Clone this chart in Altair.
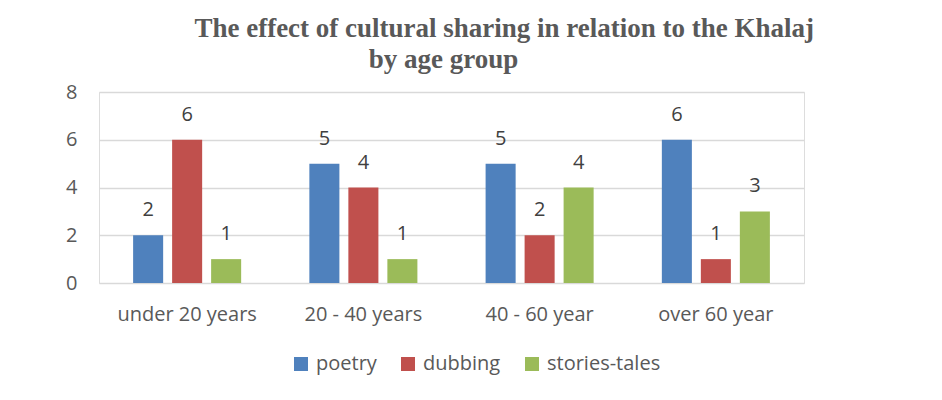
import altair as alt
import pandas as pd

categories = ["under 20 years", "20 - 40 years", "40 - 60 year", "over 60 year"]
series = ["poetry", "dubbing", "stories-tales"]
poetry = [2, 5, 5, 6]
dubbing = [6, 4, 2, 1]
stories = [1, 1, 4, 3]
colors = ["#4F81BD", "#C0504D", "#9BBB59"]

rows = []
for name, vals in zip(series, [poetry, dubbing, stories]):
    for c, v in zip(categories, vals):
        rows.append({"age": c, "series": name, "value": v})
df = pd.DataFrame(rows)

FONT = "Open Sans"
TXT = "#595959"
FS = 20

base = alt.Chart(df).encode(
    x=alt.X("age:N", sort=categories, title=None,
            scale=alt.Scale(paddingInner=0.387, paddingOuter=0.1936),
            axis=alt.Axis(labelAngle=0, ticks=False, domain=False, grid=False,
                          labelPadding=21, labelFont=FONT, labelFontSize=FS,
                          labelColor=TXT)),
    xOffset=alt.XOffset("series:N", sort=series,
                        scale=alt.Scale(paddingInner=0.23, paddingOuter=0)),
    y=alt.Y("value:Q", title=None, scale=alt.Scale(domain=[0, 8]),
            axis=alt.Axis(values=[0, 2, 4, 6, 8], ticks=False, domain=False,
                          grid=True, gridColor="#D9D9D9", gridWidth=1.3,
                          labelPadding=22, labelFont=FONT, labelFontSize=FS,
                          labelColor=TXT)),
)

bars = base.mark_bar().encode(
    color=alt.Color("series:N", sort=series,
                    scale=alt.Scale(domain=series, range=colors),
                    legend=alt.Legend(title=None, orient="none", direction="horizontal",
                                      legendX=192, legendY=262,
                                      symbolType="square", symbolSize=196,
                                      symbolStrokeWidth=0, labelFont=FONT,
                                      labelFontSize=FS, labelColor=TXT,
                                      labelOffset=5, columnPadding=21, padding=0))
)

labels = base.mark_text(baseline="alphabetic", dy=-19, font=FONT, fontSize=FS,
                        color="#404040").encode(text="value:Q")

chart = alt.layer(bars, labels).properties(
    width=705,
    height=191,
    autosize=alt.AutoSizeParams(type="none"),
    padding={"left": 91, "top": 84, "right": 130, "bottom": 109},
    title=alt.Title(
        text=["\u200b" + "\u00a0" * 18 + "The effect of cultural sharing in relation to the Khalaj",
              "by age group"],
        font="Liberation Serif", fontSize=27, fontWeight="bold", color=TXT,
        anchor="middle", dx=-8, offset=8, lineHeight=31),
).configure_view(stroke=None).configure(background="white")

chart.save("out.html", embed_options={"renderer": "svg", "actions": False})
